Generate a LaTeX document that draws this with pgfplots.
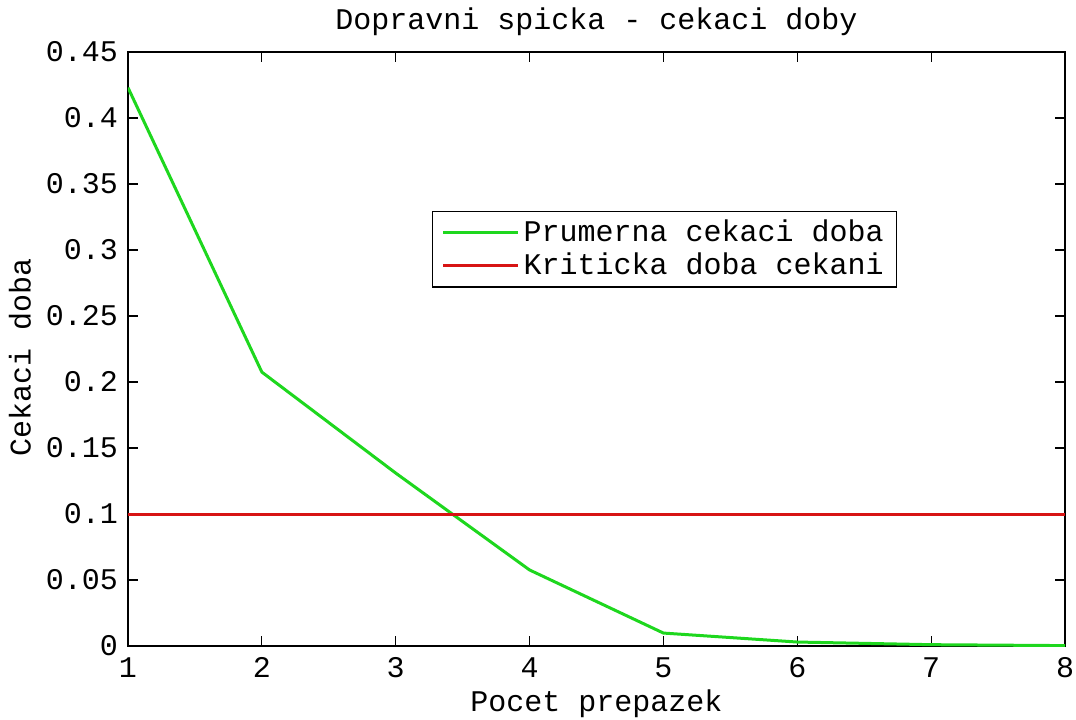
\documentclass[border=0pt]{standalone}
\usepackage{pgfplots}
\pgfplotsset{compat=1.18}
\usepackage{fontspec}
\setmainfont{Liberation Mono}
\definecolor{mgreen}{RGB}{30,215,30}
\definecolor{mred}{RGB}{215,20,20}
\begin{document}
\fontsize{30}{35}\selectfont
\begin{tikzpicture}
\useasboundingbox (-128pt,-74pt) rectangle (948pt,646pt);
\begin{axis}[
  at={(0,0)}, anchor=south west,
  width=937pt, height=594pt, scale only axis,
  xmin=1, xmax=8, ymin=0, ymax=0.45,
  xtick={1,2,3,4,5,6,7,8},
  ytick={0,0.05,0.1,0.15,0.2,0.25,0.3,0.35,0.4,0.45},
  yticklabels={0,0.05,0.1,0.15,0.2,0.25,0.3,0.35,0.4,0.45},
  /pgf/number format/assume math mode=true,
  tick align=inside, major tick length=10pt,
  tick style={black, line width=1.1pt},
  axis line style={black, line width=1.3pt},
  ticklabel style={font=\fontsize{30}{35}\selectfont},
  xticklabel style={anchor=base, yshift=-31pt},
  title={Dopravni spicka - cekaci doby},
  title style={at={(axis description cs:0.5,1)}, anchor=base, yshift=16pt, font=\fontsize{30}{35}\selectfont},
  xlabel={Pocet prepazek},
  xlabel style={at={(axis description cs:0.5,-0.111)}, anchor=base, font=\fontsize{30}{35}\selectfont},
  ylabel={Cekaci doba},
  ylabel style={at={(axis description cs:-0.1153,0.486)}, rotate=0, anchor=center, font=\fontsize{30}{35}\selectfont},
  legend style={at={(axis description cs:0.3244,0.7323)}, anchor=north west, draw=black, line width=1.2pt, fill=white,
    font=\fontsize{30}{35}\selectfont, inner xsep=9pt, inner ysep=6pt, row sep=3pt, cells={anchor=west},
    nodes={inner xsep=4pt, inner ysep=2pt}},
  legend image code/.code={\draw[#1] (0pt,0pt) -- (75pt,0pt);},
  legend cell align=left,
]
\addplot[mgreen, line width=3pt] coordinates {
  (1,0.423) (2,0.2075) (3,0.131) (4,0.0576) (5,0.0098) (6,0.003) (7,0.001) (8,0.0003)
};
\addlegendentry{Prumerna cekaci doba}
\addplot[mred, line width=3pt] coordinates {(1,0.1) (8,0.1)};
\addlegendentry{Kriticka doba cekani}
\end{axis}
\end{tikzpicture}
\end{document}
